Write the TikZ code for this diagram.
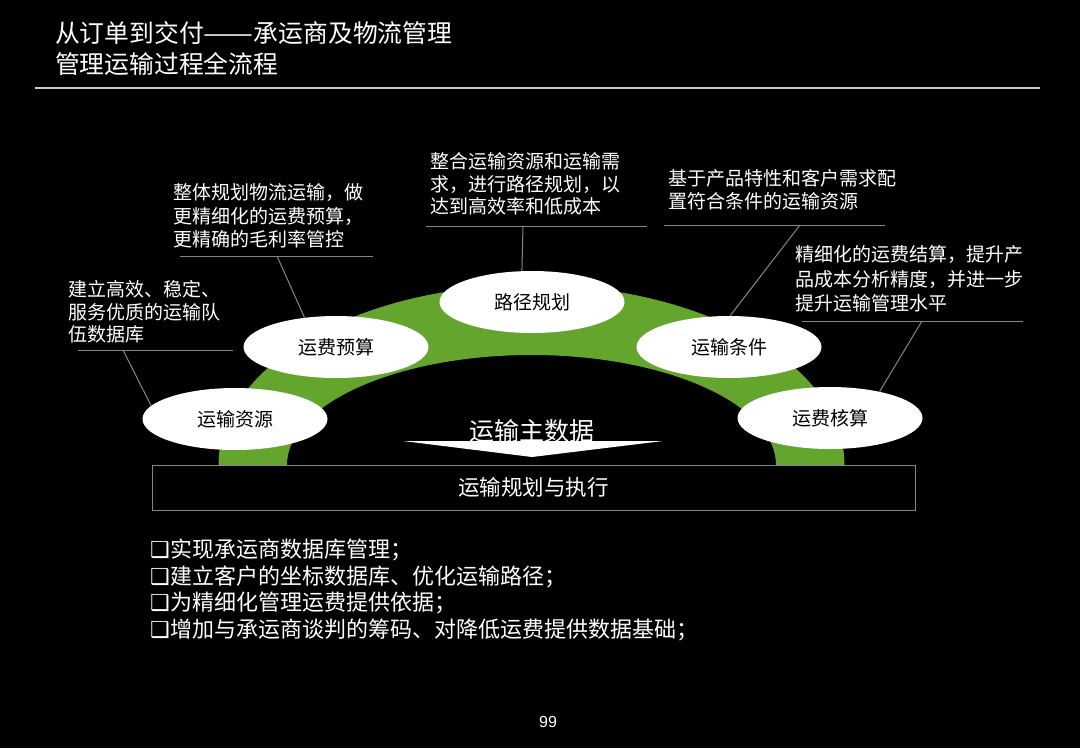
\documentclass[tikz,border=0pt]{standalone}
\usepackage{fontspec}
\setmainfont{Noto Sans CJK SC}
\newfontfamily\symfont{DejaVu Sans}
\newfontfamily\numfont{Liberation Sans}
\usetikzlibrary{shapes.geometric}
\definecolor{archgreen}{RGB}{99,165,45}
\definecolor{linegray}{RGB}{135,135,135}
\definecolor{rulegray}{RGB}{200,200,200}
\tikzset{
  callout/.style={anchor=north west, inner sep=0pt, text=white, align=left},
  calloutfont/.style={font=\fontsize{19}{#1}\selectfont},
  bubble/.style={ellipse, fill=white, draw=none, minimum width=185pt, minimum height=62pt,
                 inner sep=0pt, text=black, font=\fontsize{19}{19}\selectfont},
  lead/.style={draw=linegray, line width=1pt},
}
\begin{document}
\begin{tikzpicture}[x=1pt,y=-1pt]
\fill[black] (0,0) rectangle (1080,748);
\useasboundingbox (0,0) rectangle (1080,748);

% title
\node[callout, font=\fontsize{24.8}{31}\selectfont] (title) at (55,21.6)
  {从订单到交付{\scalebox{1.2}[1]{——}}承运商及物流管理\\管理运输过程全流程};
\coordinate (rl) at (35,88);
\coordinate (rr) at (1040,88);
\draw[draw=rulegray, line width=1.5pt] (rl) -- (rr);

% green arch
\begin{scope}
  \clip (0,0) rectangle (1080,464);
  \fill[archgreen, even odd rule]
    (531.5,465) ellipse [x radius=313, y radius=180]
    (531.5,465) ellipse [x radius=244.5, y radius=110];
\end{scope}

% base box
\node[draw=linegray, line width=1pt, minimum width=763pt, minimum height=45pt, inner sep=0pt,
      text=white, font=\fontsize{21.5}{21.5}\selectfont] (base) at (533.5,487.5) {运输规划与执行};

% master data arrow
\fill[white] (403,441) -- (663,441) -- (532,457) -- cycle;
\node[inner sep=0pt, text=white, font=\fontsize{25}{25}\selectfont] (md) at (532,431) {运输主数据};

% bubbles
\node[bubble] (e1) at (235,419) {运输资源};
\node[bubble] (e2) at (336,347) {运费预算};
\node[bubble] (e3) at (532,302) {路径规划};
\node[bubble] (e4) at (729,347) {运输条件};
\node[bubble] (e5) at (830,418) {运费核算};

% callouts
\node[callout, calloutfont=22.5] (t1) at (68,280.5) {建立高效、稳定、\\服务优质的运输队\\伍数据库};
\node[callout, calloutfont=23.5] (t2) at (173,183.5) {整体规划物流运输，做\\更精细化的运费预算，\\更精确的毛利率管控};
\node[callout, calloutfont=22.5] (t3) at (430,152.5) {整合运输资源和运输需\\求，进行路径规划，以\\达到高效率和低成本};
\node[callout, calloutfont=23] (t4) at (668,169.5) {基于产品特性和客户需求配\\置符合条件的运输资源};
\node[callout, calloutfont=24.5] (t5) at (795,245.5) {精细化的运费结算，提升产\\品成本分析精度，并进一步\\提升运输管理水平};

% underlines
\coordinate (u1a) at (78,350);  \coordinate (u1b) at (233,350);
\coordinate (u2a) at (180,256); \coordinate (u2b) at (373,256);
\coordinate (u3a) at (426,226); \coordinate (u3b) at (647,226);
\coordinate (u4a) at (664,225); \coordinate (u4b) at (885,225);
\coordinate (u5a) at (802,321); \coordinate (u5b) at (1023,321);
\draw[lead] (u1a) -- (u1b);
\draw[lead] (u2a) -- (u2b);
\draw[lead] (u3a) -- (u3b);
\draw[lead] (u4a) -- (u4b);
\draw[lead] (u5a) -- (u5b);

% leaders
\coordinate (c1) at (123,350);
\coordinate (c2) at (277,256);
\coordinate (c3) at (523,226);
\coordinate (c4) at (800,225);
\coordinate (c5) at (922,321);
\draw[lead] (c1) -- (e1.171);
\draw[lead] (c2) -- (e2.137);
\draw[lead] (c3) -- (e3.108);
\draw[lead] (c4) -- (e4.88);
\draw[lead] (c5) -- (e5.28);

% bullet list
\node[callout, font=\fontsize{22}{26.5}\selectfont] (list) at (150,539)
  {{\symfont ❑}\kern1pt 实现承运商数据库管理；\\
   {\symfont ❑}\kern1pt 建立客户的坐标数据库、优化运输路径；\\
   {\symfont ❑}\kern1pt 为精细化管理运费提供依据；\\
   {\symfont ❑}\kern1pt 增加与承运商谈判的筹码、对降低运费提供数据基础；};

% page number
\node[inner sep=0pt, text=white, font=\numfont\fontsize{16}{16}\selectfont] (pg) at (548,722) {99};
\end{tikzpicture}
\end{document}
